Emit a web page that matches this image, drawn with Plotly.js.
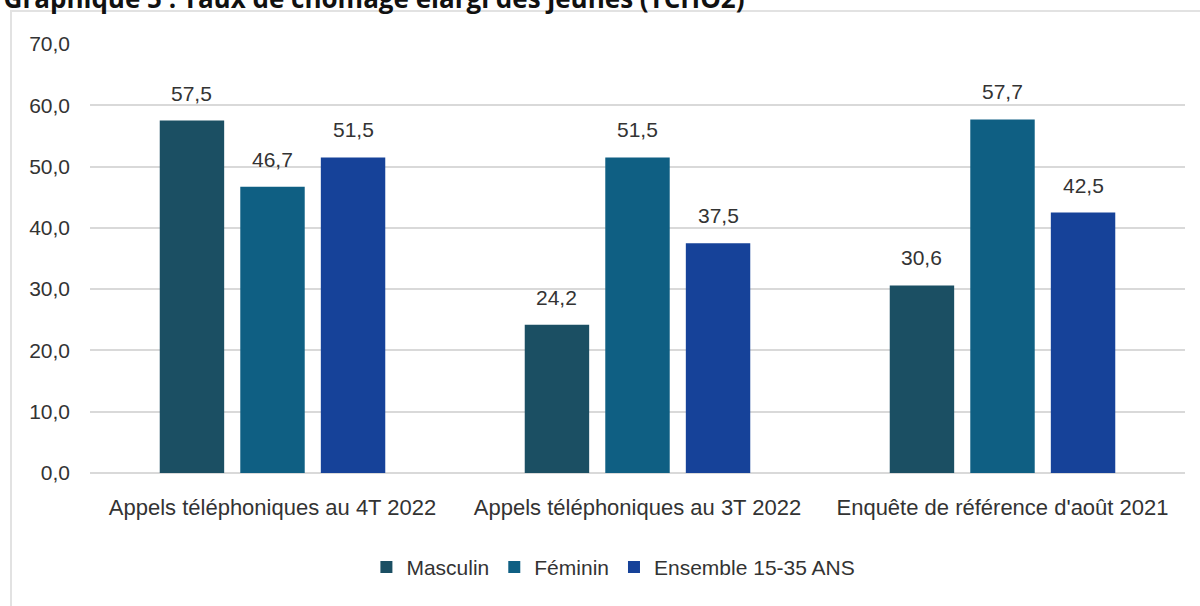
<!DOCTYPE html>
<html>
<head>
<meta charset="utf-8">
<script src="https://cdn.plot.ly/plotly-3.0.1.min.js"></script>
<style>
  body { margin: 0; background: #fff; }
  #frame { position: absolute; left: 10px; top: 10px; width: 1200px; height: 610px; border: 2px solid #e2e2e2; }
  #chart { position: absolute; left: 0; top: 0; width: 1200px; height: 606px; }
</style>
</head>
<body>
<div id="frame"></div>
<div id="chart"></div>
<script>
// categories and series
var categories = ["Appels téléphoniques au 4T 2022", "Appels téléphoniques au 3T 2022", "Enquête de référence d'août 2021"];
var seriesNames = ["Masculin", "Féminin", "Ensemble 15-35 ANS"];
var masculin = [57.5, 24.2, 30.6];
var feminin = [46.7, 51.5, 57.7];
var ensemble = [51.5, 37.5, 42.5];
var colors = ["#1b4f63", "#0f5f83", "#164299"];

var seriesValues = [masculin, feminin, ensemble];

var W = 1200, H = 606;
var margin = {l: 90, r: 15, t: 44, b: 133};
var bargap = 0.338;
var labelFont = {family: "Liberation Sans, Arial, sans-serif", size: 21, color: "#333333"};

var data = seriesValues.map(function (vals, i) {
    return {
        x: categories,
        y: vals,
        name: seriesNames[i],
        type: "bar",
        marker: {color: colors[i]},
        hoverinfo: "skip"
    };
});

// value labels above each bar, offset sideways to the bar's slot in the group
var catWidth = (W - margin.l - margin.r) / categories.length;
var slot = catWidth * (1 - bargap) / seriesValues.length;
var annotations = [];
seriesValues.forEach(function (vals, i) {
    vals.forEach(function (v, j) {
        annotations.push({
            x: categories[j],
            y: v,
            xref: "x", yref: "y",
            text: v.toFixed(1).replace(".", ","),
            showarrow: false,
            xshift: (i - 1) * slot,
            yshift: 14,
            yanchor: "bottom",
            font: labelFont
        });
    });
});

var layout = {
    width: W,
    height: H,
    paper_bgcolor: "rgba(0,0,0,0)",
    plot_bgcolor: "rgba(0,0,0,0)",
    separators: ", ",
    margin: margin,
    barmode: "group",
    bargap: bargap,
    bargroupgap: 0.2,
    title: {
        text: "<b>Graphique 5 : Taux de chômage élargi des jeunes (TCHO2)</b>",
        font: {family: "Open Sans, sans-serif", size: 26, color: "#111111"},
        x: 0.003, xanchor: "left",
        xref: "container", yref: "container",
        y: 0.986, yanchor: "bottom"
    },
    xaxis: {
        tickfont: {family: "Liberation Sans Narrow, Liberation Sans, sans-serif", size: 22, color: "#333333"},
        ticklabelstandoff: 19,
        showline: false,
        showgrid: false
    },
    yaxis: {
        range: [0, 70],
        dtick: 10,
        tickformat: ".1f",
        tickfont: {family: "Liberation Sans, Arial, sans-serif", size: 21, color: "#333333"},
        ticklabelstandoff: 19,
        gridcolor: "#d9d9d9",
        gridwidth: 2,
        zeroline: true,
        zerolinecolor: "#d9d9d9",
        zerolinewidth: 2,
        showline: false
    },
    annotations: annotations,
    showlegend: true,
    legend: {
        orientation: "h",
        x: 0.478, xanchor: "center",
        y: -0.22, yanchor: "middle",
        font: {family: "Liberation Sans Narrow, Liberation Sans, sans-serif", size: 21, color: "#333333"},
        itemwidth: 30,
        traceorder: "normal"
    }
};

Plotly.newPlot("chart", data, layout, {staticPlot: true});
</script>
</body>
</html>
